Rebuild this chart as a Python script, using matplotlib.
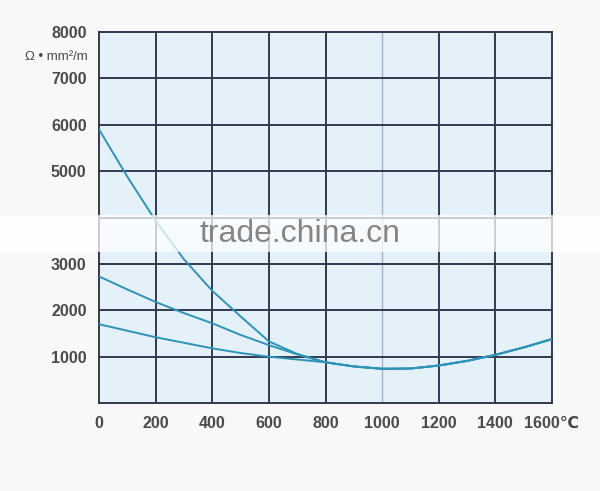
import matplotlib.pyplot as plt
from matplotlib.patches import Rectangle

plt.rcParams['font.family'] = ['Liberation Sans', 'DejaVu Sans']

# temperature (C) and resistivity values
temps = [0, 100, 200, 300, 400, 500, 600, 700, 800, 900, 1000, 1100, 1200, 1300, 1400, 1500, 1600]
tail = [790, 740, 745, 810, 910, 1040, 1200, 1380]
curve_a = [5900, 4880, 3930, 3100, 2420, 1870, 1330, 1060, 880] + tail
curve_b = [2730, 2450, 2180, 1940, 1720, 1470, 1250, 1050, 880] + tail
curve_c = [1700, 1560, 1420, 1300, 1180, 1080, 1000, 940, 880] + tail

xticks = [0, 200, 400, 600, 800, 1000, 1200, 1400, 1600]
xlabels = ['0', '200', '400', '600', '800', '1000', '1200', '1400', '1600\u2103']
yticks = [1000, 2000, 3000, 5000, 6000, 7000, 8000]
ylabels = ['1000', '2000', '3000', '5000', '6000', '7000', '8000']

grid_col = '#33384f'
line_col = '#2f93b8'
txt_col = '#4a4a4a'

fig = plt.figure(figsize=(6, 4.91), dpi=100)
fig.patch.set_facecolor('#f8f8f8')
ax = fig.add_axes([0.165, 0.179, 0.755, 0.756])
ax.set_facecolor('#e4f1f8')

ax.set_xlim(0, 1600)
ax.set_ylim(0, 8000)

# grid
for x in range(200, 1600, 200):
    if x == 1000:
        ax.axvline(x, color='#9ab3d8', lw=1.0, zorder=1)
    else:
        ax.axvline(x, color=grid_col, lw=1.4, zorder=1)
for y in range(1000, 8000, 1000):
    ax.axhline(y, color=grid_col, lw=1.4, zorder=1)

for s in ax.spines.values():
    s.set_color(grid_col)
    s.set_linewidth(1.4)

ax.plot(temps, curve_a, color=line_col, lw=1.4, zorder=3)
ax.plot(temps, curve_b, color=line_col, lw=1.4, zorder=3)
ax.plot(temps, curve_c, color=line_col, lw=1.4, zorder=3)

ax.set_xticks(xticks)
ax.set_xticklabels(xlabels)
ax.set_yticks(yticks)
ax.set_yticklabels(ylabels)
ax.tick_params(length=0, labelsize=11.5, colors=txt_col, pad=9)
for lab in ax.get_xticklabels() + ax.get_yticklabels():
    lab.set_fontweight('bold')
    lab.set_color(txt_col)

fig.text(0.147, 0.883, '\u03a9 \u2022 mm\u00b2/m', ha='right', va='center',
         fontsize=9.5, color=txt_col)

# watermark band
fig.patches.append(Rectangle((0, 0.487), 1, 0.076, transform=fig.transFigure,
                             facecolor='white', alpha=0.75, edgecolor='none', zorder=5))
fig.text(0.5, 0.523, 'trade.china.cn', ha='center', va='center', fontsize=23,
         color='#858585', zorder=6)

fig.savefig('out.png', dpi=100)
